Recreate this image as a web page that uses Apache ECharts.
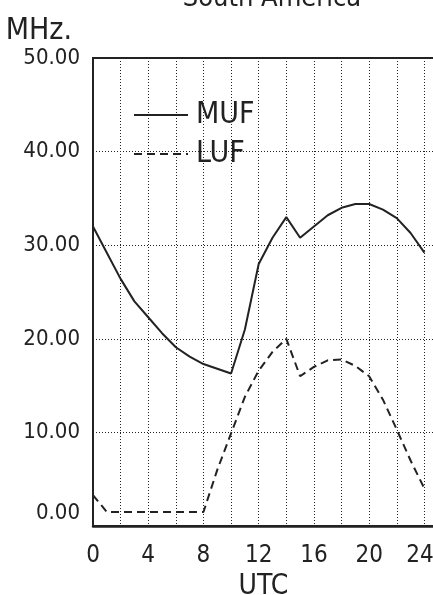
<!DOCTYPE html>
<html>
<head>
<meta charset="utf-8">
<script src="https://cdn.jsdelivr.net/npm/echarts@6/dist/echarts.min.js"></script>
<style>
html,body{margin:0;padding:0;background:#fff;}
#chart{width:433px;height:595px;}
</style>
</head>
<body>
<div id="chart"></div>
<script>
const hours = [0,1,2,3,4,5,6,7,8,9,10,11,12,13,14,15,16,17,18,19,20,21,22,23,24];
const mufValues = [32.0,29.2,26.4,24.0,22.3,20.6,19.1,18.1,17.3,16.8,16.3,21.0,28.0,30.8,33.0,30.8,32.0,33.2,34.0,34.4,34.4,33.8,32.9,31.3,29.2];
const lufValues = [3.3,1.5,1.5,1.5,1.5,1.5,1.5,1.5,1.5,6.0,9.9,13.8,16.6,18.6,20.0,16.0,17.0,17.7,17.8,17.1,16.0,13.5,10.3,7.0,4.0];
const xTickLabels = [0,4,8,12,16,20,24];
const yTickLabels = ['0.00','10.00','20.00','30.00','40.00','50.00'];
const seriesNames = ['MUF','LUF'];
const chartTitle = 'South America';

const FONT = '"DejaVu Sans Condensed","Liberation Sans Narrow","DejaVu Sans",sans-serif';
const INK = '#222';

const chart = echarts.init(document.getElementById('chart'));
chart.setOption({
  backgroundColor: '#fff',
  animation: false,
  title: {
    text: chartTitle,
    left: 267, top: -20, textAlign: 'center',
    textStyle: {fontFamily: FONT, fontSize: 27, fontWeight: 'normal', color: INK}
  },
  legend: {
    orient: 'vertical', left: 128, top: 95,
    itemWidth: 54, itemHeight: 30, itemGap: 9,
    data: seriesNames,
    itemStyle: {color: 'transparent', borderWidth: 0, opacity: 0},
    textStyle: {fontFamily: FONT, fontSize: 30, color: INK, lineHeight: 30, padding: [0,0,0,3]}
  },
  grid: {
    left: 93, top: 58, bottom: 69, right: -19,
    outerBoundsMode: 'none', containLabel: false,
    show: true, borderColor: INK, borderWidth: 2, backgroundColor: 'transparent'
  },
  xAxis: {
    type: 'value', min: 0, max: 26, interval: 2,
    name: 'UTC', nameLocation: 'middle', nameGap: 46,
    nameTextStyle: {fontFamily: FONT, fontSize: 28, color: INK, padding: [0, 18, 0, 0]},
    axisLine: {show: true, lineStyle: {color: INK, width: 2.5}},
    axisTick: {show: false},
    axisLabel: {
      fontFamily: FONT, fontSize: 24, color: INK, margin: 18,
      formatter: v => {
        if (xTickLabels.indexOf(v) < 0) return '';
        return v === 24 ? '{e|' + v + '}' : String(v);
      },
      rich: {e: {fontFamily: FONT, fontSize: 24, color: INK, padding: [0, 9, 0, 0]}}
    },
    splitLine: {show: true, lineStyle: {color: INK, width: 1, type: [1, 2]}}
  },
  yAxis: {
    type: 'value', min: 0, max: 50, interval: 10,
    name: 'MHz.', nameLocation: 'end', nameGap: 12,
    nameTextStyle: {fontFamily: FONT, fontSize: 30, color: INK, align: 'right', padding: [0, 21, 0, 0]},
    axisLine: {show: true, lineStyle: {color: INK, width: 2}},
    axisTick: {show: false},
    axisLabel: {
      fontFamily: FONT, fontSize: 22, color: INK, margin: 13,
      formatter: v => {
        const s = yTickLabels[Math.round(v / 10)];
        return v === 0 ? '{z|' + s + '}' : s;
      },
      rich: {z: {fontFamily: FONT, fontSize: 22, color: INK, padding: [0, 0, 26, 0]}}
    },
    splitLine: {show: true, lineStyle: {color: INK, width: 1, type: [1, 2]}}
  },
  series: [
    {
      name: seriesNames[0], type: 'line', symbol: 'none',
      data: hours.map((h, i) => [h, mufValues[i]]),
      lineStyle: {color: INK, width: 2}, itemStyle: {color: INK}
    },
    {
      name: seriesNames[1], type: 'line', symbol: 'none',
      data: hours.map((h, i) => [h, lufValues[i]]),
      lineStyle: {color: INK, width: 2, type: [8, 5]}, itemStyle: {color: INK}
    }
  ]
});
</script>
</body>
</html>
